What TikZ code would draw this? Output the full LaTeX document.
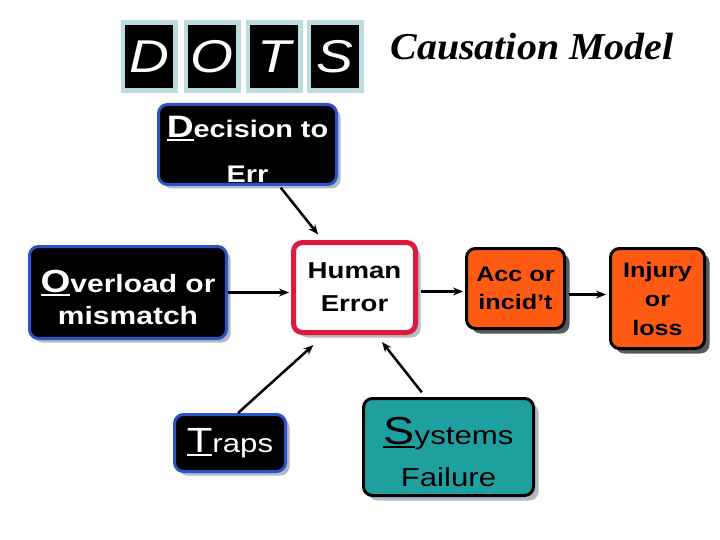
\documentclass[tikz,border=0pt]{standalone}
\usepackage{fontspec}
\setmainfont{Liberation Sans}[FakeStretch=1.2]
\newfontfamily\titlefont{Liberation Serif}[FakeStretch=1.05]
\usetikzlibrary{arrows.meta,shadows}

\definecolor{tileblue}{HTML}{BCDCE0}
\definecolor{edgeblue}{HTML}{2E52C8}
\definecolor{errred}{HTML}{E0183C}
\definecolor{accorange}{HTML}{FF5A14}
\definecolor{systeal}{HTML}{1FA0A0}
\definecolor{shadelight}{HTML}{AEBCC8}
\definecolor{shadedark}{HTML}{5A5A5A}

% underlined initial letter
\newcommand{\ulchar}[1]{\setbox0\hbox{#1}\rlap{\rule[-0.1em]{\wd0}{0.06em}}\box0}

\begin{document}
\begin{tikzpicture}[x=1pt,y=-1pt,
  box/.style={rounded corners=9pt, align=center, inner sep=0pt},
  darkbox/.style={box, fill=black, draw=edgeblue, line width=3pt, text=white,
    drop shadow={shadow xshift=4pt, shadow yshift=-4pt, fill=shadelight, opacity=1}},
  lightbox/.style={box, draw=black, line width=3pt,
    drop shadow={shadow xshift=5pt, shadow yshift=-5pt, fill=#1, opacity=1}},
  arr/.style={line width=2.5pt, -{Stealth[length=10pt,width=8pt]}}]
\useasboundingbox (0,0) rectangle (720,540);

% DOTS tiles
\foreach \x/\l in {149/D,212/O,274/T,335/S} {
  \fill[tileblue] (\x-28.5,20) rectangle (\x+28.5,93);
  \node[fill=black, minimum width=48pt, minimum height=63pt, inner sep=0pt, text=white,
    font=\fontsize{46}{46}\selectfont\itshape] (tile\l) at (\x,56.5) {\l};
}
\node[anchor=base, font=\titlefont\fontsize{38}{38}\selectfont\bfseries\itshape] (title) at (532,60) {Causation Model};

% boxes
\node[darkbox, minimum width=178pt, minimum height=80pt, font=\fontsize{24}{45}\selectfont\bfseries]
  (dec) at (247.5,144.5) {\rule{0pt}{32pt}{\fontsize{31}{31}\selectfont\ulchar{D}}ecision to\\Err};
\node[darkbox, minimum width=197pt, minimum height=92pt, font=\fontsize{25}{32}\selectfont\bfseries]
  (ovl) at (128,292.5) {\rule{0pt}{33pt}{\fontsize{32}{32}\selectfont\ulchar{O}}verload or\\mismatch};
\node[darkbox, minimum width=111pt, minimum height=57pt, font=\fontsize{26}{30}\selectfont]
  (trp) at (230,443) {{\fontsize{35}{35}\selectfont\ulchar{T}}raps};
\node[box, fill=white, draw=errred, line width=5pt, minimum width=122pt, minimum height=90pt,
  drop shadow={shadow xshift=5pt, shadow yshift=-5pt, fill=shadelight, opacity=1},
  font=\fontsize{23}{33}\selectfont\bfseries] (hum) at (354.5,287.5) {Human\\Error};
\node[lightbox=shadedark, fill=accorange, minimum width=98pt, minimum height=80pt,
  font=\fontsize{21}{28}\selectfont\bfseries] (acc) at (515.5,288.5) {Acc or\\incid’t};
\node[lightbox=shadedark, fill=accorange, minimum width=94pt, minimum height=100pt,
  font=\fontsize{21}{29}\selectfont\bfseries] (inj) at (657.5,298.5) {Injury\\or\\loss};
\node[lightbox=shadelight, fill=systeal, minimum width=170pt, minimum height=97pt,
  font=\fontsize{26}{42}\selectfont] (sys) at (448.5,447) {\rule{0pt}{37pt}{\fontsize{39}{39}\selectfont\ulchar{S}}ystems\\Failure};

% connectors
\draw[arr, shorten <=2pt, shorten >=7pt] ([xshift=32pt]dec.south) -- ([xshift=-32pt]hum.north);
\draw[arr, shorten >=2pt] (ovl.east) -- (ovl.east -| hum.west);
\draw[arr, shorten >=15pt] (trp.north) ++(8,0) -- ([xshift=-30pt]hum.south);
\draw[arr, shorten <=6pt, shorten >=9pt] ([xshift=-23pt]sys.north) -- ([xshift=22pt]hum.south);
\draw[arr, shorten <=3pt, shorten >=2pt] ([yshift=-4pt]hum.east) -- ([yshift=-4pt]hum.east -| acc.west);
\draw[arr, shorten <=3pt, shorten >=3pt] ([yshift=-6pt]acc.east) -- ([yshift=-6pt]acc.east -| inj.west);
\end{tikzpicture}
\end{document}
